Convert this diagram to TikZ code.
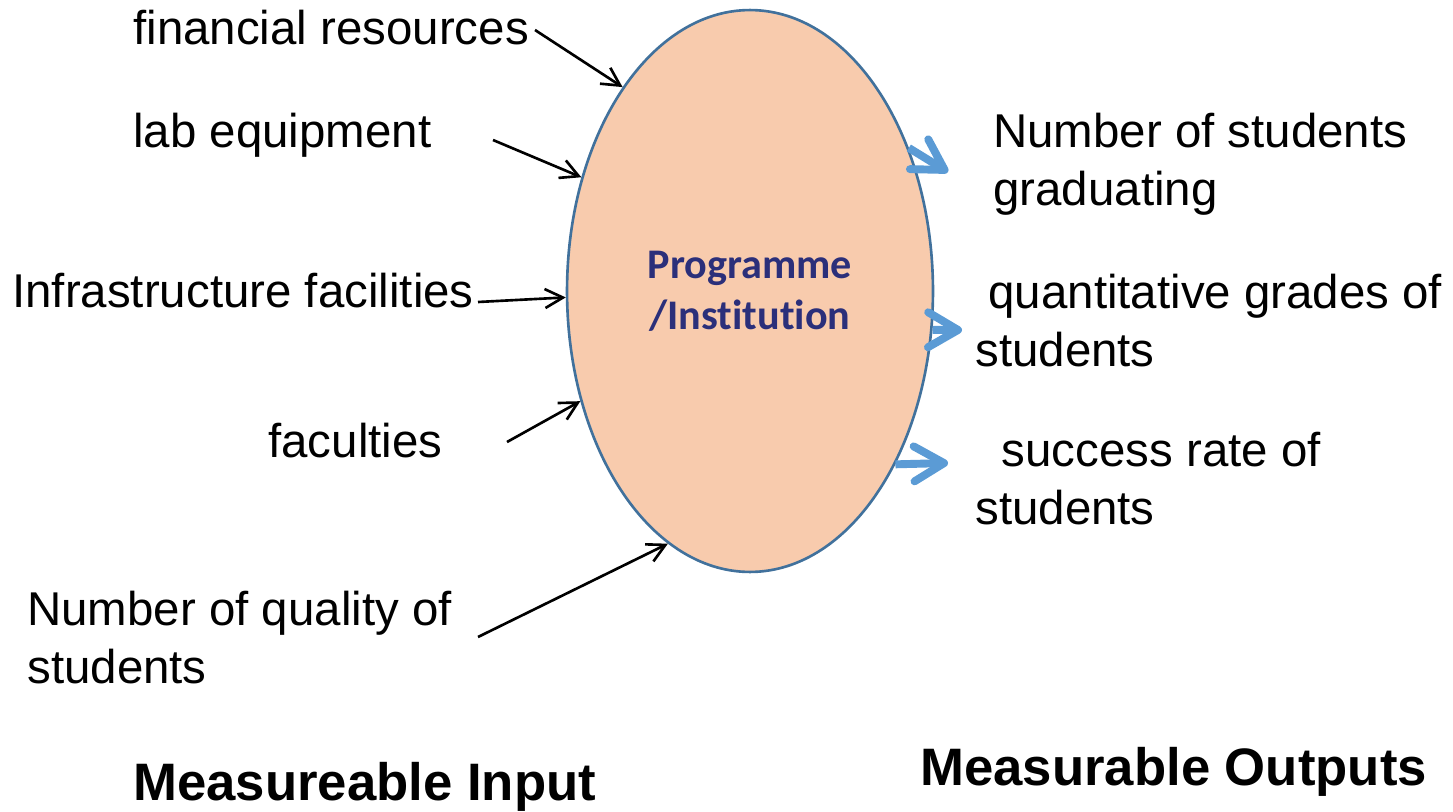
\documentclass[tikz,border=0pt]{standalone}
\usepackage{fontspec}
\setmainfont{Liberation Sans}
\newfontfamily\calibri[Ligatures=NoCommon]{Carlito}
\usetikzlibrary{shapes.geometric,arrows.meta}
\definecolor{peach}{RGB}{248,203,173}
\definecolor{rim}{RGB}{65,113,156}
\definecolor{navy}{RGB}{43,47,122}
\definecolor{outblue}{RGB}{91,155,213}

\begin{document}
\begin{tikzpicture}[x=0.02cm,y=-0.02cm,
    lbl/.style={anchor=base west,inner sep=0,align=left,
      font=\fontsize{27}{32.5}\selectfont},
    ttl/.style={anchor=base west,inner sep=0,
      font=\fontsize{30}{36}\selectfont\bfseries},
    inarrow/.style={line width=1.5pt,-{Straight Barb[length=3.6mm,width=3.8mm]}},
    outarrow/.style={outblue,line width=4.5pt,-{Straight Barb[length=6mm,width=7mm,round]}}]
  \useasboundingbox (0,0) rectangle (1453,811);
  % the programme
  \node[ellipse,draw=rim,fill=peach,line width=1.5pt,minimum width=7.32cm,
    minimum height=11.24cm,inner sep=0,align=center,text=navy,
    font=\calibri\bfseries\fontsize{24}{29}\selectfont] (prog) at (750,291)
    {Programme\\/Institution};
  % inputs
  \node[lbl] (fin) at (133,45) {financial resources};
  \node[lbl] (lab) at (133,147) {lab equipment};
  \node[lbl] (infra) at (12,307) {Infrastructure facilities};
  \node[lbl] (fac) at (268,457) {faculties};
  \node[lbl] (numq) at (27,683) {Number of quality of\\students};
  \coordinate (fin-t) at (535,30);
  \coordinate (lab-t) at (493,140);
  \coordinate (infra-t) at (478,302);
  \coordinate (fac-t) at (507,442);
  \coordinate (numq-t) at (478,637);
  \draw[inarrow] (fin-t) -- (prog.122);
  \draw[inarrow] (lab-t) -- (prog.146);
  \draw[inarrow] (infra-t) -- (prog.182);
  \draw[inarrow] (fac-t) -- (prog.213);
  \draw[inarrow] (numq-t) -- (prog.252);
  % outputs
  \node[lbl] (grad) at (993,205) {Number of students\\graduating};
  \node[lbl] (grades) at (975,366) {\hspace*{0.278em}quantitative grades of\\students};
  \node[lbl] (succ) at (975,524) {\hspace*{0.556em}success rate of\\students};
  \coordinate (grad-h) at (948,172);
  \coordinate (grades-h) at (962,330);
  \coordinate (succ-h) at (948,463);
  \draw[outarrow] (prog.42) -- (grad-h);
  \draw[outarrow] (prog.-12) -- (grades-h);
  \draw[outarrow] (prog.-50) -- (succ-h);
  % titles
  \node[ttl] (inp) at (133,800) {Measureable Input};
  \node[ttl] (outp) at (920,785) {Measurable Outputs};
\end{tikzpicture}
\end{document}
